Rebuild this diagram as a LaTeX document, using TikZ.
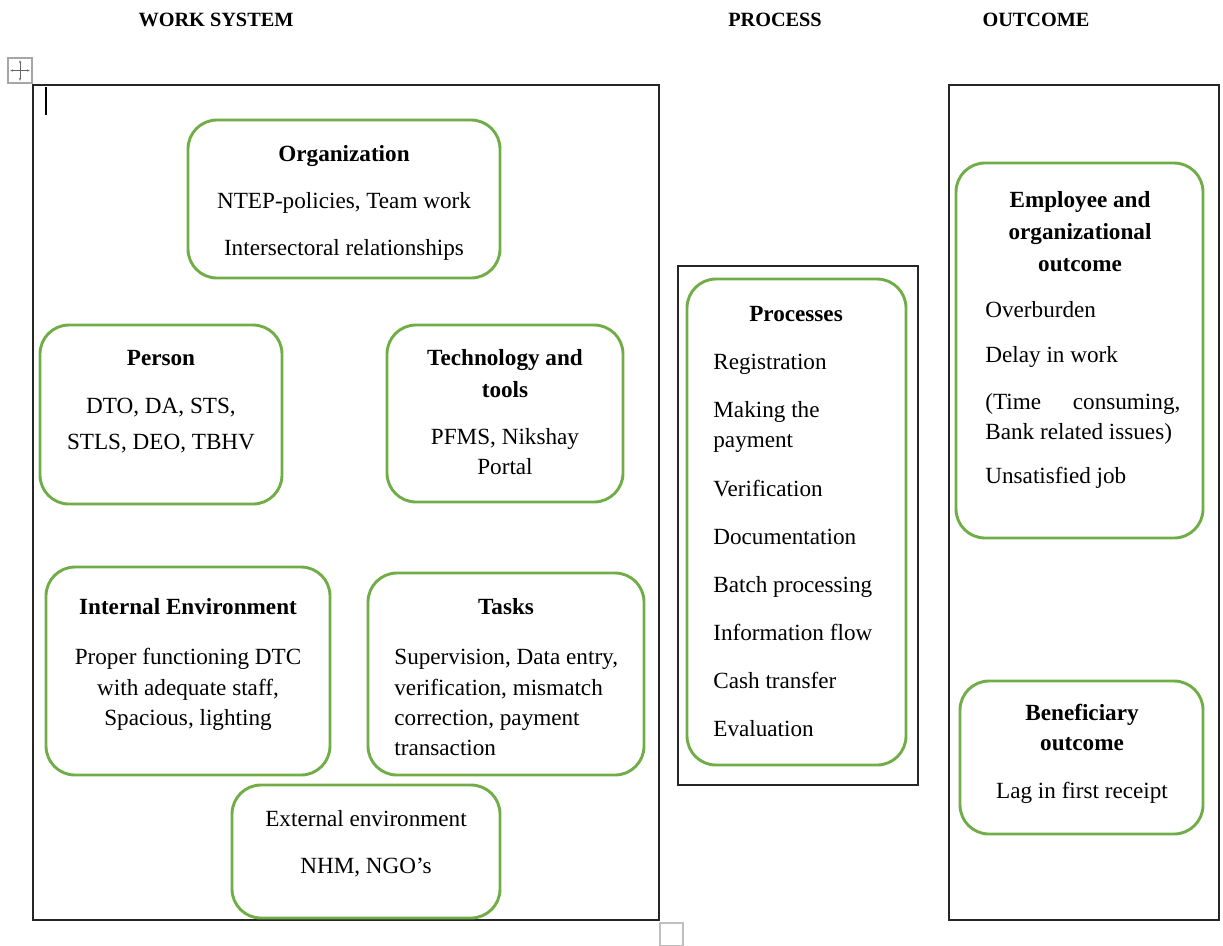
\documentclass[tikz,border=0pt]{standalone}
\usepackage{fontspec}
\setmainfont{Liberation Serif}
\usepackage{tikz}
\usetikzlibrary{arrows.meta,positioning,fit,calc}
\definecolor{boxgreen}{RGB}{112,173,71}
\tikzset{
  framebox/.style={draw=black!85,line width=.8pt,inner sep=0pt},
  greenbox/.style={draw=boxgreen,line width=1.5pt,rounded corners=15pt,inner sep=0pt},
  headtext/.style={font=\fontsize{10.5}{12}\selectfont\bfseries,inner sep=0pt},
  linetext/.style={font=\fontsize{12}{14}\selectfont,inner sep=0pt,text height=9pt,text depth=1pt},
  titletext/.style={linetext,font=\fontsize{12}{14}\selectfont\bfseries},
  lefttext/.style={linetext,anchor=west},
  movearrow/.style={black!60,line width=.5pt,{Stealth[length=1.5pt]}-{Stealth[length=1.5pt]}}
}

\begin{document}
\begin{tikzpicture}[x=0.518pt,y=-0.518pt]
  \useasboundingbox (0,0) rectangle (1223,945);
  % column headings
  \node[headtext] (hwork) at (216,20) {WORK SYSTEM};
  \node[headtext] (hproc) at (775,20) {PROCESS};
  \node[headtext] (hout) at (1036,20) {OUTCOME};
  % editor marks
  \node[draw=black!35,line width=.8pt,inner sep=0pt,fit={(8,58) (32,83)}] (move) {};
  \draw[movearrow] ($(move.north)+(0,3)$) -- ($(move.south)+(0,-3)$);
  \draw[movearrow] ($(move.west)+(3,0)$) -- ($(move.east)+(-3,0)$);
  \coordinate (curtop) at (46,87);
  \coordinate (curbot) at (46,115);
  \draw[line width=.6pt] (curtop) -- (curbot);
  \node[draw=black!25,line width=.8pt,inner sep=0pt,fit={(660,923) (683,946)}] (mark) {};
  % outer frames
  \node[framebox,fit={(33,85) (659,920)}] (wsys) {};
  \node[framebox,fit={(678,266) (918,785)}] (proc) {};
  \node[framebox,fit={(949,85) (1219,920)}] (outc) {};
  % work system
  \node[greenbox,fit={(188,120) (500,278)}] (org) {};
  \node[titletext] at (344,154) {Organization};
  \node[linetext] at (344,201) {NTEP-policies, Team work};
  \node[linetext] at (344,248) {Intersectoral relationships};

  \node[greenbox,fit={(40,325) (282,504)}] (person) {};
  \node[titletext] at (161,358) {Person};
  \node[linetext] at (161,406) {DTO, DA, STS,};
  \node[linetext] at (161,442) {STLS, DEO, TBHV};

  \node[greenbox,fit={(387,325) (623,502)}] (tech) {};
  \node[titletext] at (505,358) {Technology and};
  \node[titletext] at (505,390) {tools};
  \node[linetext] at (505,437) {PFMS, Nikshay};
  \node[linetext] at (505,467) {Portal};

  \node[greenbox,fit={(46,567) (330,775)}] (intenv) {};
  \node[titletext] at (188,607) {Internal Environment};
  \node[linetext] at (188,657) {Proper functioning DTC};
  \node[linetext] at (188,688) {with adequate staff,};
  \node[linetext] at (188,718) {Spacious, lighting};

  \node[greenbox,fit={(368,573) (644,775)}] (tasks) {};
  \node[titletext] at (506,607) {Tasks};
  \node[lefttext] at (394,657) {Supervision, Data entry,};
  \node[lefttext] at (394,688) {verification, mismatch};
  \node[lefttext] at (394,718) {correction, payment};
  \node[lefttext] at (394,748) {transaction};

  \node[greenbox,fit={(232,785) (500,918)}] (extenv) {};
  \node[linetext] at (366,819) {External environment};
  \node[linetext] at (366,866) {NHM, NGO's};
  % process
  \node[greenbox,fit={(687,279) (906,765)}] (procs) {};
  \node[titletext] at (796,314) {Processes};
  \node[lefttext] at (713,362) {Registration};
  \node[lefttext] at (713,410) {Making the};
  \node[lefttext] at (713,440) {payment};
  \node[lefttext] at (713,489) {Verification};
  \node[lefttext] at (713,537) {Documentation};
  \node[lefttext] at (713,585) {Batch processing};
  \node[lefttext] at (713,633) {Information flow};
  \node[lefttext] at (713,681) {Cash transfer};
  \node[lefttext] at (713,729) {Evaluation};
  % outcome
  \node[greenbox,fit={(956,163) (1203,538)}] (empout) {};
  \node[titletext] at (1080,200) {Employee and};
  \node[titletext] at (1080,232) {organizational};
  \node[titletext] at (1080,264) {outcome};
  \node[lefttext] at (985,310) {Overburden};
  \node[lefttext] at (985,355) {Delay in work};
  \node[lefttext] at (985,402) {\makebox[101pt][s]{(Time\hfill consuming,}};
  \node[lefttext] at (985,432) {Bank related issues)};
  \node[lefttext] at (985,476) {Unsatisfied job};

  \node[greenbox,fit={(960,681) (1203,834)}] (benout) {};
  \node[titletext] at (1082,713) {Beneficiary};
  \node[titletext] at (1082,743) {outcome};
  \node[linetext] at (1082,791) {Lag in first receipt};
\end{tikzpicture}
\end{document}
